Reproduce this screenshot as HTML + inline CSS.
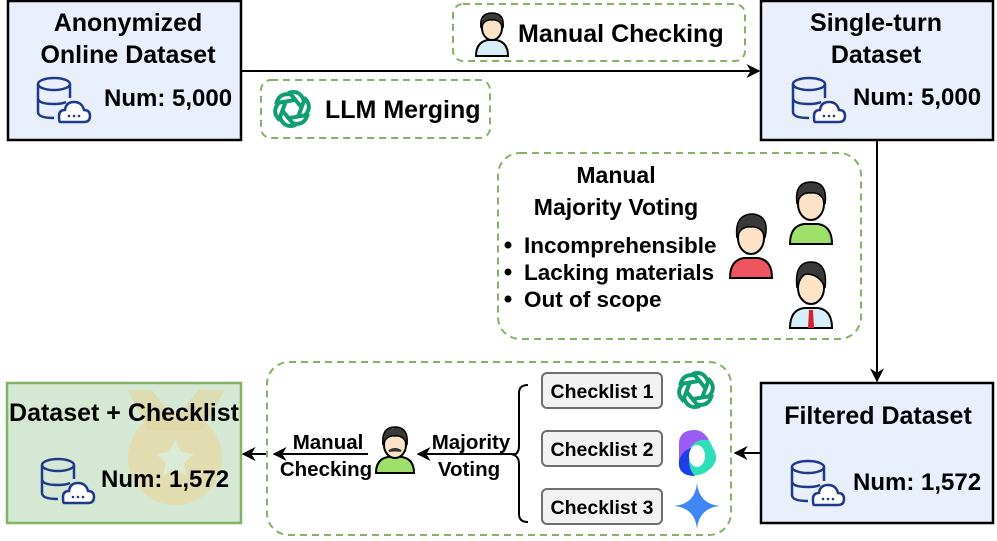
<!DOCTYPE html>
<html><head><meta charset="utf-8"><style>
html,body{margin:0;padding:0;background:#fff;width:997px;height:541px;overflow:hidden}
svg text{font-family:"Liberation Sans",Arial,sans-serif;font-weight:bold;fill:#000}
</style></head><body>
<svg width="997" height="541" viewBox="0 0 997 541" xmlns="http://www.w3.org/2000/svg">
<defs>
<marker id="ah" viewBox="0 0 10 10" refX="9" refY="5" markerWidth="7" markerHeight="7" orient="auto"><path d="M0,0 L10,5 L0,10 L3,5 z" fill="#000"/></marker>
<g id="db">
 <ellipse cx="18" cy="8" rx="16" ry="6" fill="none" stroke="#1f3a8a" stroke-width="2.5"/>
 <path d="M2,8 V36 Q2,42 18,42 M34,8 V22 M2,22 Q2,28 18,28 Q26,28 30,26" fill="none" stroke="#1f3a8a" stroke-width="2.5"/>
 <path d="M24,46 H48 Q54,46 54,40 Q54,34 48,34 Q46,26 38,26 Q30,26 29,34 Q23,34 23,40 Q23,46 24,46 z" fill="#fff" stroke="#1f3a8a" stroke-width="2.5"/>
 <circle cx="33" cy="40" r="1.3" fill="#1f3a8a"/><circle cx="38" cy="40" r="1.3" fill="#1f3a8a"/><circle cx="43" cy="40" r="1.3" fill="#1f3a8a"/>
</g>
<g id="gpt">
 <g fill="none" stroke="#109e73" stroke-width="4">
  <path d="M-4,-16 Q8,-20 12,-8 L6,8" transform="rotate(0)"/>
  <path d="M-4,-16 Q8,-20 12,-8 L6,8" transform="rotate(60)"/>
  <path d="M-4,-16 Q8,-20 12,-8 L6,8" transform="rotate(120)"/>
  <path d="M-4,-16 Q8,-20 12,-8 L6,8" transform="rotate(180)"/>
  <path d="M-4,-16 Q8,-20 12,-8 L6,8" transform="rotate(240)"/>
  <path d="M-4,-16 Q8,-20 12,-8 L6,8" transform="rotate(300)"/>
 </g>
</g>
</defs>

<!-- top boxes -->
<rect x="8" y="1" width="233" height="139" fill="#e9effb" stroke="#000" stroke-width="2.5"/>
<text x="128" y="31" font-size="25" text-anchor="middle">Anonymized</text>
<text x="128" y="63" font-size="25" text-anchor="middle">Online Dataset</text>
<use href="#db" x="36" y="76"/>
<text x="104" y="106" font-size="24">Num: 5,000</text>

<rect x="761" y="1" width="232" height="139" fill="#e9effb" stroke="#000" stroke-width="2.5"/>
<text x="876" y="31" font-size="25" text-anchor="middle">Single-turn</text>
<text x="876" y="63" font-size="25" text-anchor="middle">Dataset</text>
<use href="#db" x="791" y="76"/>
<text x="853" y="105" font-size="24">Num: 5,000</text>

<line x1="241" y1="71" x2="759" y2="71" stroke="#000" stroke-width="2" marker-end="url(#ah)"/>

<rect x="453" y="4" width="292" height="57" rx="10" fill="#fff" stroke="#82b366" stroke-width="2" stroke-dasharray="7,5"/>
<g transform="translate(474,10)">
 <path d="M2,46 Q2,32 14,30 L22,30 Q34,32 34,46 z" fill="#d6eef8" stroke="#000" stroke-width="2"/>
 <ellipse cx="18" cy="18" rx="10" ry="12" fill="#fde3c8" stroke="#000" stroke-width="2"/>
 <path d="M7,18 Q5,3 18,3 Q31,3 29,18 Q26,9 18,10 Q10,9 7,18 z" fill="#3a3a3a" stroke="#000" stroke-width="1.5"/>
</g>
<text x="518" y="42" font-size="25">Manual Checking</text>

<rect x="261" y="80" width="229" height="58" rx="10" fill="#fff" stroke="#82b366" stroke-width="2" stroke-dasharray="7,5"/>
<use href="#gpt" x="292" y="109"/>
<text x="325" y="118" font-size="25">LLM Merging</text>

<!-- vertical arrow -->
<line x1="877" y1="140" x2="877" y2="381" stroke="#000" stroke-width="2" marker-end="url(#ah)"/>

<!-- middle dashed box -->
<rect x="498" y="153" width="363" height="186" rx="22" fill="#fff" stroke="#82b366" stroke-width="2" stroke-dasharray="7,5"/>
<text x="616" y="183" font-size="23" text-anchor="middle">Manual</text>
<text x="616" y="215" font-size="23" text-anchor="middle">Majority Voting</text>
<circle cx="508" cy="245" r="3.5" fill="#000"/><text x="524" y="253" font-size="22.5">Incomprehensible</text>
<circle cx="508" cy="272" r="3.5" fill="#000"/><text x="524" y="280" font-size="22.5">Lacking materials</text>
<circle cx="508" cy="299" r="3.5" fill="#000"/><text x="524" y="307" font-size="22.5">Out of scope</text>
<!-- people -->
<g transform="translate(788,178)">
 <path d="M2,66 Q2,48 16,46 L30,46 Q44,48 44,66 z" fill="#9fe06a" stroke="#000" stroke-width="2"/>
 <ellipse cx="23" cy="26" rx="13" ry="16" fill="#fde3c8" stroke="#000" stroke-width="2"/>
 <path d="M9,26 Q6,4 23,4 Q40,4 37,26 Q34,14 23,15 Q12,14 9,26 z" fill="#3a3a3a" stroke="#000" stroke-width="1.5"/>
</g>
<g transform="translate(728,210)">
 <path d="M2,68 Q2,50 16,48 L30,48 Q44,50 44,68 z" fill="#ef5461" stroke="#000" stroke-width="2"/>
 <ellipse cx="23" cy="28" rx="13" ry="16" fill="#fde3c8" stroke="#000" stroke-width="2"/>
 <path d="M9,28 Q6,4 25,4 Q42,6 37,28 Q34,16 23,17 Q12,16 9,28 z" fill="#3a3a3a" stroke="#000" stroke-width="1.5"/>
</g>
<g transform="translate(788,258)">
 <path d="M2,70 Q2,52 16,50 L30,50 Q44,52 44,70 z" fill="#d6eef8" stroke="#000" stroke-width="2"/>
 <path d="M21,52 L25,52 L26,70 L20,70 z" fill="#d1232a"/>
 <ellipse cx="23" cy="30" rx="13" ry="16" fill="#fde3c8" stroke="#000" stroke-width="2"/>
 <path d="M9,30 Q6,4 23,4 Q40,4 37,30 Q32,16 18,16 Q12,18 9,30 z" fill="#3a3a3a" stroke="#000" stroke-width="1.5"/>
</g>

<!-- Filtered Dataset -->
<rect x="761" y="383" width="232" height="140" fill="#e9effb" stroke="#000" stroke-width="2.5"/>
<text x="878" y="424" font-size="25" text-anchor="middle">Filtered Dataset</text>
<use href="#db" x="790" y="459"/>
<text x="853" y="490" font-size="24">Num: 1,572</text>

<line x1="761" y1="453" x2="735" y2="453" stroke="#000" stroke-width="2" marker-end="url(#ah)"/>

<!-- bottom dashed box -->
<rect x="267" y="362" width="464" height="173" rx="22" fill="#fff" stroke="#82b366" stroke-width="2" stroke-dasharray="7,5"/>
<g fill="#f2f2f2" stroke="#6e6e6e" stroke-width="2">
<rect x="542" y="373" width="120" height="35" rx="5"/>
<rect x="542" y="431" width="120" height="35" rx="5"/>
<rect x="542" y="489" width="120" height="35" rx="5"/>
</g>
<text x="602" y="398" font-size="19.5" text-anchor="middle">Checklist 1</text>
<text x="602" y="456" font-size="19.5" text-anchor="middle">Checklist 2</text>
<text x="602" y="514" font-size="19.5" text-anchor="middle">Checklist 3</text>
<use href="#gpt" x="696" y="390"/>
<g transform="translate(675,430)">
 <path d="M4,14 Q4,0 20,0 Q30,0 38,18 Q46,30 34,40 Q24,48 12,44 Q4,40 4,30 z" fill="#2ee0b8"/>
 <path d="M4,14 Q4,0 20,0 Q28,0 34,10 Q20,8 14,20 Q8,30 4,36 z" fill="#9b5cf5"/>
 <path d="M4,30 Q2,46 20,46 Q14,40 14,30 Q14,20 22,18 Q10,16 4,30 z" fill="#1e3fe8"/>
 <ellipse cx="22" cy="26" rx="8" ry="11" fill="#fff"/>
</g>
<path d="M697,483 Q699,504 720,506 Q699,508 697,529 Q695,508 674,506 Q695,504 697,483 z" fill="#3f87f5"/>

<!-- brace -->
<path d="M528,385 Q519,385 519,393 L519,446 Q519,453 514,455 Q519,457 519,464 L519,514 Q519,522 528,522" fill="none" stroke="#000" stroke-width="2"/>

<line x1="515" y1="454" x2="418" y2="454" stroke="#000" stroke-width="2" marker-end="url(#ah)"/>
<text x="471" y="449" font-size="20.5" text-anchor="middle">Majority</text>
<text x="469" y="476" font-size="20.5" text-anchor="middle">Voting</text>

<g transform="translate(376,425)">
 <path d="M0,48 Q0,34 12,32 L26,32 Q38,34 38,48 z" fill="#9fe06a" stroke="#000" stroke-width="2"/>
 <ellipse cx="19" cy="20" rx="11" ry="13" fill="#fde3c8" stroke="#000" stroke-width="2"/>
 <path d="M7,20 Q5,2 19,2 Q33,2 31,20 Q28,10 19,11 Q10,10 7,20 z" fill="#3a3a3a" stroke="#000" stroke-width="1.5"/>
 <path d="M13,26 Q19,22 25,26 Q19,25 13,26 z" fill="#333" stroke="#333" stroke-width="2"/>
</g>

<line x1="368" y1="454" x2="274" y2="454" stroke="#000" stroke-width="2" marker-end="url(#ah)"/>
<text x="328" y="449" font-size="20.5" text-anchor="middle">Manual</text>
<text x="326" y="476" font-size="20.5" text-anchor="middle">Checking</text>

<line x1="266" y1="454" x2="243" y2="454" stroke="#000" stroke-width="2" marker-end="url(#ah)"/>

<!-- final box -->
<rect x="7" y="383" width="234" height="140" fill="#d5e8d4" stroke="#82b366" stroke-width="2.5"/>
<circle cx="175" cy="458" r="47" fill="#e3d9a8" opacity="0.8"/>
<path d="M128,390 L152,390 L175,420 L198,390 L225,390 L202,430 L148,430 z" fill="#e0d5a2" opacity="0.7"/>
<path d="M175,440 L181,452 L194,454 L184,463 L187,476 L175,469 L163,476 L166,463 L156,454 L169,452 z" fill="#dcebd6"/>
<text x="124" y="421" font-size="25" text-anchor="middle">Dataset + Checklist</text>
<use href="#db" x="40" y="457"/>
<text x="101" y="487" font-size="24">Num: 1,572</text>
</svg>
</body></html>
